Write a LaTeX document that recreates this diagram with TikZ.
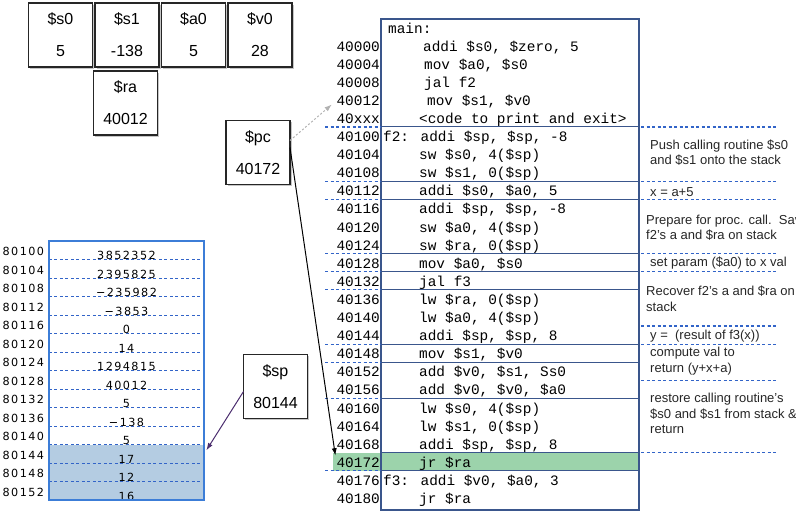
\documentclass[tikz,border=0pt]{standalone}
\usepackage{fontspec}
\setmainfont{Liberation Sans}
\newfontfamily\codefont{Liberation Mono}
\newfontfamily\memfont[LetterSpace=13]{DejaVu Sans}
\usetikzlibrary{arrows.meta,positioning,shadows}
\definecolor{codeblue}{RGB}{58,86,140}
\definecolor{dashblue}{RGB}{50,100,200}
\definecolor{memblue}{RGB}{60,125,215}
\definecolor{memshade}{RGB}{180,204,226}
\definecolor{pcgreen}{RGB}{156,211,171}
\definecolor{sparrow}{RGB}{75,45,110}

\begin{document}
\begin{tikzpicture}[x=1pt,y=-1pt,
  reg/.style={draw=black!85,line width=1.4pt,fill=white,minimum width=64pt,
              minimum height=64pt,inner sep=0,outer sep=0,align=center,
              font=\fontsize{16}{32}\selectfont,
              drop shadow={shadow xshift=1.8pt,shadow yshift=-1.8pt,opacity=.45}},
  addr/.style={font=\codefont\fontsize{14.4}{18}\selectfont,anchor=base east,inner sep=0},
  code/.style={font=\codefont\fontsize{14.4}{18}\selectfont,anchor=base west,inner sep=0},
  note/.style={font=\fontsize{13}{15.5}\selectfont,align=left,anchor=north west,
               inner sep=0,text=black!85},
  mem/.style={font=\memfont\fontsize{11.2}{12}\selectfont,minimum width=155pt,
              minimum height=18.5pt,text height=18.5pt,text depth=0pt,inner sep=0},
  memhi/.style={mem,fill=memshade},
  maddr/.style={font=\memfont\fontsize{11.2}{12}\selectfont,anchor=base east,inner sep=0},
  sepline/.style={draw=codeblue,line width=1.1pt},
  bdash/.style={draw=dashblue,line width=1.2pt,dash pattern=on 3pt off 2.5pt},
  ar/.style={-{Latex[length=2.6mm,width=1.8mm]},line width=1pt}]
\useasboundingbox (0,0) rectangle (796,517);

% registers
\node[reg] (s0) at (60.5,35) {\$s0\\5};
\node[reg,right=2.5pt of s0] (s1) {\$s1\\-138};
\node[reg,right=2.5pt of s1] (a0) {\$a0\\5};
\node[reg,right=2.5pt of a0] (v0) {\$v0\\28};
\node[reg,below=4pt of s1,xshift=-1.5pt] (ra) {\$ra\\40012};
\node[reg] (pc) at (258,152.5) {\$pc\\40172};
\node[reg] (sp) at (275.5,386.5) {\$sp\\80144};

% code listing
\fill[pcgreen] (333,{54.5+18.1*22}) rectangle (639,{54.5+18.1*23});
\draw[sepline] (381,19) rectangle (639,510);
\foreach \i in {4,7,8,11,12,13,16,17,19,22,23}
  \draw[sepline] (381,{54.5+18.1*\i}) -- (639,{54.5+18.1*\i});
\foreach \i in {4,7,8,11,12,13,16,17,19,23}
  \draw[bdash] (325,{54.5+18.1*\i}) -- (381,{54.5+18.1*\i});
\foreach \i in {4,7,8,11,12,15,16,18,22}
  \draw[bdash] (641,{54.5+18.1*\i}) -- (777,{54.5+18.1*\i});
\node[code] (mainlbl) at (388,33) {main:};
\foreach \i/\ad/\cx/\txt in {
  0/40000/423/{addi \$s0, \$zero, 5},
  1/40004/424/{mov \$a0, \$s0},
  2/40008/424/{jal f2},
  3/40012/427/{mov \$s1, \$v0},
  4/40xxx/419/{<code to print and exit>},
  5/40100/383/{f2: addi \$sp, \$sp, -8},
  6/40104/419/{sw \$s0, 4(\$sp)},
  7/40108/419/{sw \$s1, 0(\$sp)},
  8/40112/419/{addi \$s0, \$a0, 5},
  9/40116/419/{addi \$sp, \$sp, -8},
  10/40120/419/{sw \$a0, 4(\$sp)},
  11/40124/419/{sw \$ra, 0(\$sp)},
  12/40128/419/{mov \$a0, \$s0},
  13/40132/419/{jal f3},
  14/40136/419/{lw \$ra, 0(\$sp)},
  15/40140/419/{lw \$a0, 4(\$sp)},
  16/40144/419/{addi \$sp, \$sp, 8},
  17/40148/419/{mov \$s1, \$v0},
  18/40152/419/{add \$v0, \$s1, Ss0},
  19/40156/419/{add \$v0, \$v0, \$a0},
  20/40160/419/{lw \$s0, 4(\$sp)},
  21/40164/419/{lw \$s1, 0(\$sp)},
  22/40168/419/{addi \$sp, \$sp, 8},
  23/40172/419/{jr \$ra},
  24/40176/383/{f3: addi \$v0, \$a0, 3},
  25/40180/419/{jr \$ra}}{
  \node[addr] (a\i) at (380,{51+18.1*\i}) {\ad};
  \node[code] (c\i) at (\cx,{51+18.1*\i}) {\txt};
}

% comments
\node[note] (n1) at (650,139.5) {Push calling routine \$s0\\and \$s1 onto the stack};
\node[note] (n2) at (650,187) {x = a+5};
\node[note] (n3) at (646,214.5) {Prepare for proc. call.\ \ Sav\\f2's a and \$ra on stack};
\node[note] (n4) at (650,256.5) {set param (\$a0) to x val};
\node[note] (n5) at (646,286) {Recover f2's a and \$ra on\\stack};
\node[note] (n6) at (650,330) {y =\ \ (result of f3(x))};
\node[note] (n7) at (650,347) {compute val to\\return (y+x+a)};
\node[note] (n8) at (650,393) {restore calling routine's\\\$s0 and \$s1 from stack \&\\return};

% stack memory
\foreach \i/\ad/\val/\st in {0/80100/3852352/mem,1/80104/2395825/mem,
  2/80108/−235982/mem,3/80112/−3853/mem,4/80116/0/mem,5/80120/14/mem,
  6/80124/1294815/mem,7/80128/40012/mem,8/80132/5/mem,9/80136/−138/mem,
  10/80140/5/mem,11/80144/17/memhi,12/80148/12/memhi,13/80152/16/memhi}{
  \node[\st] (m\i) at (126.5,{250.25+18.5*\i}) {\val};
  \node[maddr] (l\i) at ([xshift=-4.5pt,yshift=4pt]m\i.south west) {\ad};
}
\foreach \i in {0,...,12}
  \draw[bdash] (m\i.south west) -- (m\i.south east);
\draw[memblue,line width=1.5pt] (m0.north west) rectangle (m13.south east);

% pointers
\draw[ar,gray!60,dash pattern=on 2pt off 2pt,shorten >=6pt] ([yshift=12pt]pc.east) -- (a3.west);
\draw[ar,black,shorten >=7pt] ([yshift=5pt]pc.east) -- (a23.west);
\draw[ar,sparrow,shorten >=4pt] ([yshift=-5pt]sp.west) -- (m11.east);
\end{tikzpicture}
\end{document}
